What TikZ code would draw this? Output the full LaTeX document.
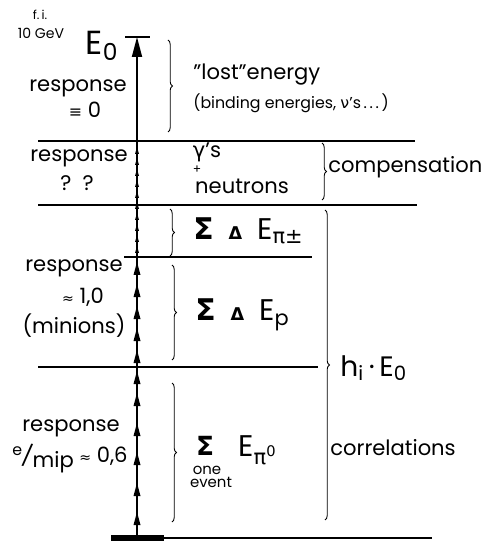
\documentclass[tikz,border=0pt]{standalone}
\usepackage{fontspec}
\setmainfont{Poppins}
\newfontfamily\grk{DejaVu Sans}
\usetikzlibrary{arrows.meta, positioning, decorations.pathreplacing}

\tikzset{
  resp/.style={font=\fontsize{12}{14}\selectfont, inner sep=0pt},
  note/.style={font=\fontsize{12}{14}\selectfont, inner sep=0pt, anchor=west},
  small/.style={font=\fontsize{9}{11}\selectfont, inner sep=0pt, anchor=west},
  tiny/.style={font=\fontsize{7}{8}\selectfont, inner sep=0pt},
  sumtxt/.style={font=\fontsize{17}{19}\selectfont, inner sep=0pt, anchor=west},
  level/.style={line width=0.6pt},
  brc/.style={decorate, decoration={brace, amplitude=2.5pt}, line width=0.5pt},
  mainarrow/.style={-{Triangle[length=0.4cm, width=0.2cm]}, line width=1pt},
  bighead/.style={fill=black},
}
\newcommand{\bigS}{{\grk\bfseries Σ}}
\newcommand{\smD}{{\grk\bfseries\fontsize{10}{10}\selectfont Δ}}

\begin{document}
\begin{tikzpicture}[x=0.02cm, y=-0.02cm]
  \useasboundingbox (0,0) rectangle (487,543);

  % energy levels
  \draw [level] (38,141) -- (415,141);
  \draw [level] (38,205) -- (417,205);
  \draw [level] (124,257) -- (312,257);
  \draw [level] (38,367) -- (318,367);
  \draw [level] (111,538) -- (432,538);
  \fill (111,535) rectangle (164,541);

  % shower axis
  \coordinate (bot) at (137,537);
  \coordinate (top) at (137,37);
  \draw [mainarrow] (bot) -- (top);
  \draw [level] ([xshift=-0.24cm]top) -- ([xshift=0.26cm]top);
  \foreach \y in {262,284,306,328,350,371,393,423,452,483,512}
    \fill [bighead] (137,\y) -- ++(-3.5,13) -- ++(7,0) -- cycle;
  \foreach \y in {147,158,169,180,191,202,213,224,235,246}
    \fill [bighead] (137,\y) -- ++(-2,7) -- ++(4,0) -- cycle;

  % left side
  \node [tiny] (fi) at (40,15) {f.\,i.};
  \node [tiny, font=\fontsize{8}{9}\selectfont] (gev) at (41,33) {10 GeV};
  \node [resp, font=\fontsize{19}{21}\selectfont] (e0) at (102,46) {E\textsubscript{0}};

  \node [resp] (r1) at (78,88) {response};
  \node [resp] (r1v) at (85,110) {{\grk\fontsize{9}{9}\selectfont ≡} 0};
  \node [resp] (r2) at (79,158) {response};
  \node [resp] (r2v) at (77,183) {?\ \ ?};
  \node [resp] (r3) at (74,268) {response};
  \node [resp] (r3v) at (83,297) {{\grk\fontsize{8}{8}\selectfont ≈} 1,0};
  \node [resp] (r3m) at (74,326) {(minions)};
  \node [resp] (r4) at (71,428) {response};
  \node [resp] (r4v) at (70,458) {\raisebox{4pt}{\fontsize{9}{9}\selectfont e}\kern-1pt\rotatebox{-10}{/}\kern-1pt\raisebox{-3pt}{mip} {\grk\fontsize{8}{8}\selectfont ≈} 0,6};

  % right side
  \node [note] (lost) at (193,75) {"lost"energy};
  \node [small] (bind) at (193,103) {(binding energies, {\grk ν}'s\,.\,.\,.\,)};
  \node [resp] (gam) at (207,152) {{\grk γ}'s};
  \node [tiny] (plus) at (197,170) {+};
  \node [resp] (neu) at (242,186) {neutrons};
  \node [note] (comp) at (328,167) {compensation};
  \node [sumtxt] (spi) at (193,231) {\bigS\enspace\smD\enspace E\textsubscript{\grk π±}};
  \node [sumtxt] (sp) at (195,315) {\bigS\enspace\smD\enspace E\textsubscript{p}};
  \node [sumtxt, font=\fontsize{16}{18}\selectfont] (hi) at (340,368) {h\textsubscript{i}\,·\,E\textsubscript{0}};
  \node [resp, font=\fontsize{15}{17}\selectfont] (spz) at (205,446) {\bigS};
  \node [tiny, font=\fontsize{8.5}{9}\selectfont] (one) at (207,470) {one};
  \node [tiny, font=\fontsize{8.5}{9}\selectfont] (evt) at (211,482) {event};
  \node [sumtxt, font=\fontsize{17}{19}\selectfont] (epz) at (238,450) {E\textsubscript{\grk π\textsuperscript{0}}};
  \node [note] (corr) at (330,448) {correlations};

  % braces
  \draw [brc] (168,40) -- (168,132);
  \draw [brc] (322,143) -- (322,200);
  \draw [brc] (170,209) -- (170,256);
  \draw [brc] (172,265) -- (172,360);
  \draw [brc] (172,383) -- (172,522);
  \draw [brc] (325,210) -- (325,520);
\end{tikzpicture}
\end{document}
